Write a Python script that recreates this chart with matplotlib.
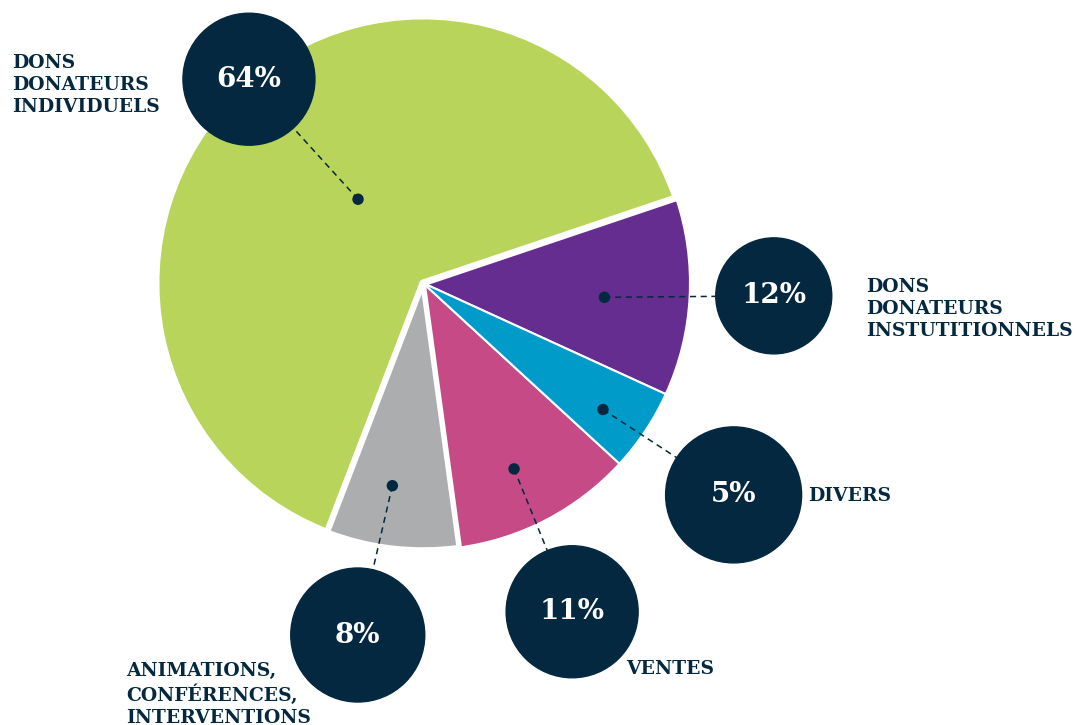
import numpy as np
import matplotlib
matplotlib.use('Agg')
import matplotlib.pyplot as plt
from matplotlib.patches import Circle

# slices, counter-clockwise from the purple one
labels = ['DONS\nDONATEURS\nINSTUTITIONNELS', 'DONS\nDONATEURS\nINDIVIDUELS',
          'ANIMATIONS,\nCONFÉRENCES,\nINTERVENTIONS', 'VENTES', 'DIVERS']
values = [12, 64, 8, 11, 5]
pct_text = ['12%', '64%', '8%', '11%', '5%']
colors = ['#652d90', '#b8d45a', '#acadaf', '#c64a85', '#009bc9']
explode = [0, 0.03, 0.018, 0, 0]
edge_w = [1.5, 5, 4, 1.5, 1.5]

# layout of annotations (pixels): dot radius / angle shift, bubble distance, bubble size
dot_r = [182, 106, 205, 207, 220]
dot_da = [-1.5, -6, -2, -1.5, -1.5]
bubble_d = [351, 268, 358, 361, 376]
bubble_a = [-2.1, 130.5, -100.5, -65.6, -34.3]
bubble_size = [58, 66, 67, 66, 68]
label_xy = [(866, 278), (12, 54), (126, 662), (626, 660), (808, 487)]

navy = '#03283f'
W, H = 1078, 725
cx, cy, R = 423, H - 283, 267

fig = plt.figure(figsize=(W / 100, H / 100), dpi=100)
ax = fig.add_axes([0, 0, 1, 1])

wedges, _ = ax.pie(values, colors=colors, startangle=-24.6, counterclock=True,
                   center=(cx, cy), radius=R, explode=explode,
                   wedgeprops=dict(edgecolor='white'))
for w, lw in zip(wedges, edge_w):
    w.set_linewidth(lw)
    w.set_joinstyle('round')
    if lw > 2:
        w.set_zorder(2)
ax.set_xlim(0, W)
ax.set_ylim(0, H)
ax.set_aspect('equal')
ax.axis('off')

for i, w in enumerate(wedges):
    mid = np.deg2rad((w.theta1 + w.theta2) / 2 + dot_da[i])
    dx, dy = cx + dot_r[i] * np.cos(mid), cy + dot_r[i] * np.sin(mid)
    ba = np.deg2rad(bubble_a[i])
    bx, by = cx + bubble_d[i] * np.cos(ba), cy + bubble_d[i] * np.sin(ba)
    ax.plot([dx, bx], [dy, by], ls=(0, (4, 3)), color=navy, lw=1.1, zorder=3)
    ax.add_patch(Circle((dx, dy), 5, color=navy, zorder=4))
    ax.add_patch(Circle((bx, by), bubble_size[i], color=navy, zorder=5))
    ax.text(bx, by, pct_text[i], color='white', fontsize=20, fontweight='bold',
            family='DejaVu Serif', ha='center', va='center', zorder=6)
    lx, ly = label_xy[i]
    ax.text(lx, H - ly, labels[i], color=navy, fontsize=13.5, fontweight='bold',
            family='DejaVu Serif', ha='left', va='top', linespacing=1.28)

fig.savefig('out.png', dpi=100)
